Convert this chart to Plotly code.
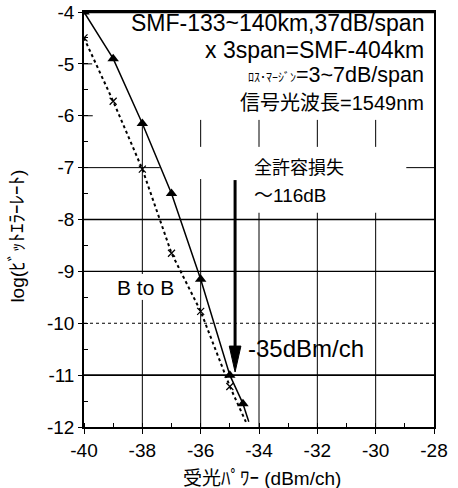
import plotly.graph_objects as go

# ---- data ----
tri_x = [-40, -39, -38, -37, -36, -35, -34.55]
tri_y = [-4.0, -4.9, -6.15, -7.5, -9.15, -11.0, -11.55]
tri_tail_x = [-34.55, -34.35]
tri_tail_y = [-11.55, -11.9]

b2b_x = [-40, -39, -38, -37, -36, -35]
b2b_y = [-4.5, -5.72, -7.03, -8.65, -9.77, -11.22]
b2b_tail_x = [-35, -34.45]
b2b_tail_y = [-11.22, -11.9]

x_ticks = [-40, -38, -36, -34, -32, -30, -28]
y_ticks = [-4, -5, -6, -7, -8, -9, -10, -11, -12]

# grid segments (layout): horizontal (y, x0, x1, dash, width)
hgrid = [
    (-5, -40, -39.72, "solid", 1),
    (-6, -40, -39.7, "solid", 1),
    (-7, -40, -37.4, "solid", 1),
    (-7, -28.95, -28, "solid", 1),
    (-8, -40, -28, "solid", 1.4),
    (-9, -40, -28, "solid", 1.2),
    (-10, -40, -28, "dot", 1.2),
    (-11, -40, -28, "solid", 1.8),
]
# vertical (x, y0, y1)
vgrid = [
    (-38, -6.2, -9.05), (-38, -9.55, -12),
    (-36, -6.08, -6.6), (-36, -7.22, -12),
    (-34, -6.08, -6.6), (-34, -7.87, -12),
    (-32, -6.08, -6.6), (-32, -7.87, -12),
    (-30, -6.08, -6.6), (-30, -7.87, -12),
]

arrow_x = -34.82
arrow_top = -7.24
arrow_head_top = -10.44
arrow_tip = -10.94
arrow_half = 0.2

LAT = "Liberation Sans, Arial, Noto Sans CJK JP"
CJK = "Noto Sans CJK JP, Liberation Sans"

fig = go.Figure()

fig.add_trace(go.Scatter(x=b2b_x, y=b2b_y, mode="lines+markers",
                         line=dict(color="black", width=2, dash="dot"),
                         marker=dict(symbol="x-thin", size=7, line=dict(color="black", width=1.2)),
                         showlegend=False))
fig.add_trace(go.Scatter(x=b2b_tail_x, y=b2b_tail_y, mode="lines",
                         line=dict(color="black", width=2, dash="dot"), showlegend=False))
fig.add_trace(go.Scatter(x=tri_x, y=tri_y, mode="lines+markers",
                         line=dict(color="black", width=1.5),
                         marker=dict(symbol="triangle-up", size=10, color="black"),
                         showlegend=False))
fig.add_trace(go.Scatter(x=tri_tail_x, y=tri_tail_y, mode="lines",
                         line=dict(color="black", width=1.5), showlegend=False))

shapes = []
for (yv, x0, x1, dash, w) in hgrid:
    shapes.append(dict(type="line", xref="x", yref="y", x0=x0, x1=x1, y0=yv, y1=yv,
                       line=dict(color="black", width=w, dash=dash), layer="below"))
for (xv, y0, y1) in vgrid:
    shapes.append(dict(type="line", xref="x", yref="y", x0=xv, x1=xv, y0=y0, y1=y1,
                       line=dict(color="black", width=1), layer="below"))
# arrow
shapes.append(dict(type="line", xref="x", yref="y", x0=arrow_x, x1=arrow_x,
                   y0=arrow_top, y1=arrow_head_top, line=dict(color="black", width=3)))
shapes.append(dict(type="path", xref="x", yref="y",
                   path=f"M {arrow_x-arrow_half},{arrow_head_top} L {arrow_x+arrow_half},{arrow_head_top} L {arrow_x},{arrow_tip} Z",
                   fillcolor="black", line=dict(color="black", width=1)))
# thicker top border
shapes.append(dict(type="line", xref="paper", yref="paper", x0=0, x1=1, y0=1, y1=1,
                   line=dict(color="black", width=2.5)))

ann = []
def A(text, x, y, size, xanchor="left", font=LAT, **kw):
    ann.append(dict(text=text, x=x, y=y, xref="x", yref="y", showarrow=False,
                    xanchor=xanchor, yanchor="middle", borderpad=0,
                    font=dict(family=font, size=size, color="black"), **kw))

A("SMF-133~140km,37dB/span", -28.31, -4.21, 23, "right")
A("x 3span=SMF-404km", -28.31, -4.73, 23, "right")
A('<span style="font-size:12px">ﾛｽ･ﾏｰｼﾞﾝ</span>=3~7dB/span', -28.31, -5.22, 21.5, "right")
A("信号光波長=1549nm", -28.31, -5.755, 20, "right")
A("全許容損失", -34.21, -6.97, 18, "left", CJK)
A("～116dB", -34.21, -7.53, 19, "left")
A("B to B", -38.9, -9.32, 21, "left")
A("-35dBm/ch", -34.41, -10.48, 24, "left")

ann.append(dict(text="受光ﾊﾟﾜｰ (dBm/ch)", x=0.509, y=-0.123, xref="paper", yref="paper",
                showarrow=False, xanchor="center", yanchor="middle",
                font=dict(family=LAT, size=19, color="black")))
ann.append(dict(text="log(ﾋﾞｯﾄｴﾗｰﾚｰﾄ)", x=-0.19, y=0.46, xref="paper", yref="paper",
                showarrow=False, xanchor="center", yanchor="middle", textangle=-90,
                font=dict(family=LAT, size=19, color="black")))

fig.update_layout(
    width=458, height=488,
    margin=dict(l=84, r=24, t=12, b=61),
    paper_bgcolor="white", plot_bgcolor="white",
    shapes=shapes, annotations=ann,
    xaxis=dict(range=[-40, -28], tickvals=x_ticks, ticktext=[str(v) for v in x_ticks],
               automargin=False,
               showgrid=False, zeroline=False, showline=True, mirror=True,
               linecolor="black", linewidth=1.5, ticks="outside", ticklen=5,
               tickcolor="black", tickwidth=1,
               tickfont=dict(family=LAT, size=19, color="black"),
               minor=dict(ticks="inside", dtick=1, ticklen=4, tickcolor="black", showgrid=False)),
    yaxis=dict(range=[-12, -4], tickvals=y_ticks, ticktext=[str(v) for v in y_ticks],
               automargin=False,
               showgrid=False, zeroline=False, showline=True, mirror=True,
               linecolor="black", linewidth=1.5, ticks="outside", ticklen=4,
               tickcolor="black", tickwidth=1,
               tickfont=dict(family=LAT, size=19, color="black"),
               minor=dict(ticks="inside", dtick=0.5, ticklen=4, tickcolor="black", showgrid=False)),
)

fig.write_html("out.html", config={"displayModeBar": False},
               post_script="document.body.style.margin='0';document.body.style.overflow='hidden';")
